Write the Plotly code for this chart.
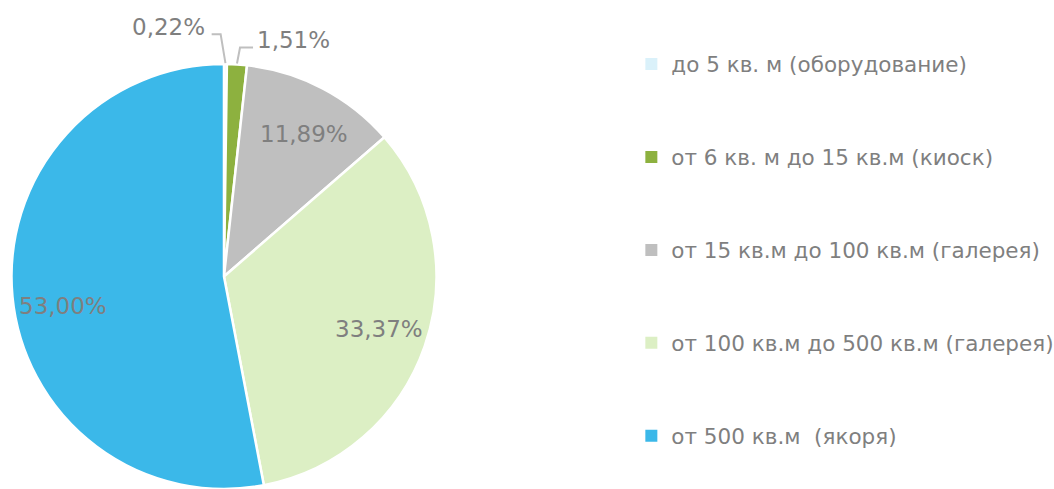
import math
import plotly.graph_objects as go

categories = [
    "до 5 кв. м (оборудование)",
    "от 6 кв. м до 15 кв.м (киоск)",
    "от 15 кв.м до 100 кв.м (галерея)",
    "от 100 кв.м до 500 кв.м (галерея)",
    "от 500 кв.м  (якоря)",
]
values = [0.22, 1.51, 11.89, 33.37, 53.00]
colors = ["#DAF1FA", "#8DB13F", "#BFBFBF", "#DCEFC4", "#3BB8E9"]
text_labels = [f"{v:.2f}".replace(".", ",") + "%" for v in values]

GRAY = "#7F7F7F"
LINE_GRAY = "#BFBFBF"
FONT = "DejaVu Sans"
W, H = 1054, 489

# pie domain (paper)
DX = [0.01, 0.415]
DY = [0.0, 0.869]
cx = (DX[0] + DX[1]) / 2 * W
cy = (1 - (DY[0] + DY[1]) / 2) * H
R = min((DX[1] - DX[0]) * W, (DY[1] - DY[0]) * H) / 2


def px2paper(x, y):
    return x / W, 1 - y / H


def polar(theta_deg, r):
    t = math.radians(theta_deg)
    return cx + r * math.sin(t), cy - r * math.cos(t)


fig = go.Figure()
fig.add_trace(go.Pie(
    labels=categories,
    values=values,
    textinfo="none",
    sort=False,
    direction="clockwise",
    rotation=0,
    marker=dict(colors=colors, line=dict(color="white", width=2.5)),
    domain=dict(x=DX, y=DY),
    showlegend=False,
    hoverinfo="label+percent",
))

total = sum(values)
cum = 0.0
annotations = []
shapes = []
outside_style = {
    0: dict(rf=1.14, edx=-5, hdx=-9, side="right", tdy=-7, gap=5),
    1: dict(rf=1.08, edx=2, hdx=13, side="left", tdy=-7, gap=2),
}
inside_nudge = {2: 1.5, 3: -0.5, 4: -5.0}
for i, v in enumerate(values):
    a0 = cum / total * 360
    cum += v
    a1 = cum / total * 360
    mid = (a0 + a1) / 2
    if i in outside_style:
        st = outside_style[i]
        ex, ey = polar(mid, R)
        ex2, ey2 = polar(mid, R * st["rf"])
        ex2 += st["edx"]
        hx = ex2 + st["hdx"]
        p = [px2paper(ex, ey - 1), px2paper(ex2, ey2), px2paper(hx, ey2)]
        path = "M {} {} L {} {} L {} {}".format(p[0][0], p[0][1], p[1][0], p[1][1], p[2][0], p[2][1])
        shapes.append(dict(type="path", xref="paper", yref="paper", path=path,
                           line=dict(color=LINE_GRAY, width=2)))
        tx = hx + (-st["gap"] if st["side"] == "right" else st["gap"])
        tx_p, ty_p = px2paper(tx, ey2 + st["tdy"])
        annotations.append(dict(x=tx_p, y=ty_p, xref="paper", yref="paper",
                                text=text_labels[i], showarrow=False,
                                xanchor=st["side"], yanchor="middle",
                                font=dict(family=FONT, size=23, color=GRAY)))
    else:
        lx, ly = polar(mid + inside_nudge.get(i, 0), R * 0.77)
        lx_p, ly_p = px2paper(lx, ly)
        annotations.append(dict(x=lx_p, y=ly_p, xref="paper", yref="paper",
                                text=text_labels[i], showarrow=False,
                                xanchor="center", yanchor="middle",
                                font=dict(family=FONT, size=23, color=GRAY)))

for i, (c, col) in enumerate(zip(categories, colors)):
    fig.add_trace(go.Scatter(
        x=[None], y=[None], mode="markers", name=c,
        marker=dict(symbol="square", size=7, color=col),
        legendgroup=f"g{i}", showlegend=True,
    ))

fig.update_layout(
    width=W, height=H, autosize=False,
    margin=dict(l=0, r=0, t=0, b=0, pad=0, autoexpand=False),
    paper_bgcolor="white", plot_bgcolor="white",
    xaxis=dict(visible=False), yaxis=dict(visible=False),
    font=dict(family=FONT, color=GRAY, size=21.5),
    annotations=annotations,
    shapes=shapes,
    legend=dict(
        x=0.599, y=0.911, xanchor="left", yanchor="top",
        tracegroupgap=62, itemsizing="constant",
        font=dict(family=FONT, size=21.5, color=GRAY),
        bgcolor="rgba(0,0,0,0)",
    ),
)

fig.write_html(
    "out.html",
    config={"displayModeBar": False, "responsive": False},
    post_script="document.body.style.margin='0';document.body.style.overflow='hidden';",
)
